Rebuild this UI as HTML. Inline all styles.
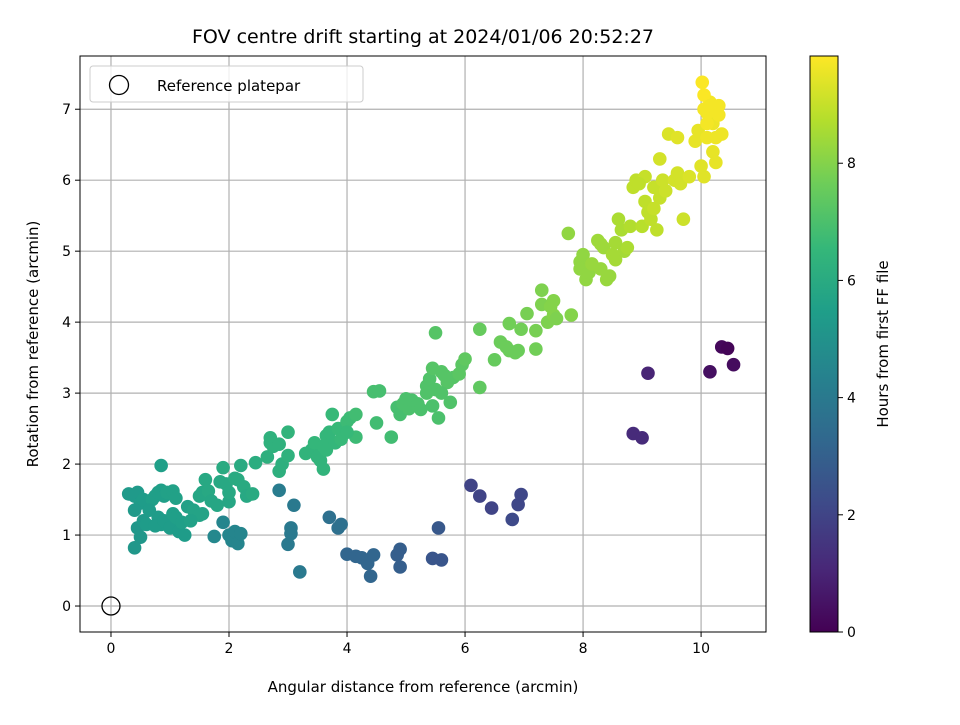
<!DOCTYPE html>
<html><head><meta charset="utf-8"><style>
body{margin:0;background:#fff;}
svg text{font-family:"DejaVu Sans","Liberation Sans",sans-serif;fill:#000;}
</style></head><body>
<svg id="chart" width="960" height="720" viewBox="0 0 960 720">
<text x="423" y="43" text-anchor="middle" font-size="19">FOV centre drift starting at 2024/01/06 20:52:27</text>
<text x="423" y="692" text-anchor="middle" font-size="15">Angular distance from reference (arcmin)</text>
<text x="38" y="344" text-anchor="middle" font-size="15" transform="rotate(-90 38 344)">Rotation from reference (arcmin)</text>
<text x="888" y="344" text-anchor="middle" font-size="15" transform="rotate(-90 888 344)">Hours from first FF file</text>
<g id="legend">
<rect x="90" y="66" width="273" height="36" rx="3" fill="#fff" fill-opacity="0.8" stroke="#ccc"/>
<circle cx="119" cy="85" r="9.5" fill="none" stroke="#000" stroke-width="1.3"/>
<text x="157" y="91" font-size="15">Reference platepar</text>
</g>
</svg>
<script>
const xs=[0.3,0.4,0.45,0.5,0.55,0.4,0.45,0.5,0.4,0.55,0.6,0.7,0.75,0.8,0.85,0.9,0.95,1.05,1.1,0.8,0.85,0.75,0.9,1.0,1.05,1.1,1.15,1.2,1.25,1.3,0.85,0.65,1.4,1.5,1.55,1.6,1.65,1.7,1.5,1.55,1.35,1.85,1.9,1.95,2.0,2.1,2.15,2.2,2.25,2.3,2.4,2.0,1.8,
2.45,2.65,2.7,2.7,2.75,2.85,2.9,2.85,3.0,3.0,3.3,3.4,3.45,3.5,3.55,3.6,3.6,3.65,3.7,3.75,3.8,3.85,3.9,4.0,4.05,4.15,4.15,4.0,3.65,
4.45,4.55,4.5,4.75,4.85,4.9,4.95,5.0,5.05,5.1,5.2,5.25,5.35,5.4,5.45,5.5,5.45,5.55,5.5,5.6,5.65,5.7,5.75,5.8,5.9,5.95,6.0,5.35,5.6,
6.25,6.25,6.5,6.6,6.7,6.75,6.75,6.85,6.95,7.05,7.2,7.2,7.3,7.3,7.4,7.5,7.5,7.45,7.75,7.8,7.55,6.9,
7.95,7.95,8.0,8.05,8.1,8.15,8.25,8.3,8.35,8.4,8.45,8.5,8.55,8.6,8.65,8.7,8.75,8.8,8.3,8.55,
8.85,8.9,9.0,9.05,9.1,9.15,9.2,9.25,9.3,9.35,9.05,8.95,9.2,9.4,9.45,9.55,9.6,9.65,9.7,9.8,9.3,
9.9,9.95,10.05,10.0,10.1,10.2,10.25,10.2,10.1,10.05,10.15,10.05,10.02,10.15,10.3,10.3,10.35,10.1,10.25,9.6,
10.35,10.45,10.15,10.55,9.1,8.85,9.0,6.1,6.25,6.45,6.8,6.9,6.95,5.45,5.6,5.55,4.85,4.9,4.9,4.0,4.15,4.25,4.35,4.4,4.45,3.7,3.85,3.9,3.2,3.0,3.05,3.05,3.1,2.85,2.0,2.05,2.1,2.15,2.2,1.75,1.9];
const ys=[1.58,1.55,1.6,1.45,1.5,1.35,1.1,0.97,0.82,1.2,1.15,1.5,1.55,1.6,1.63,1.55,1.6,1.62,1.52,1.25,1.15,1.13,1.2,1.1,1.3,1.25,1.05,1.18,1.0,1.4,1.98,1.35,1.35,1.55,1.6,1.78,1.62,1.48,1.28,1.3,1.2,1.75,1.95,1.72,1.47,1.8,1.78,1.98,1.68,1.55,1.58,1.6,1.42,
2.02,2.1,2.3,2.37,2.25,1.9,2.0,2.28,2.45,2.12,2.15,2.2,2.3,2.1,2.05,1.93,2.25,2.4,2.45,2.7,2.3,2.5,2.35,2.6,2.65,2.7,2.38,2.45,2.2,
3.02,3.03,2.58,2.38,2.8,2.7,2.85,2.92,2.78,2.9,2.85,2.77,3.1,3.2,3.35,3.05,2.82,2.65,3.85,3.3,3.25,3.15,2.87,3.22,3.27,3.4,3.48,3.0,3.0,
3.08,3.9,3.47,3.72,3.65,3.98,3.6,3.57,3.9,4.12,3.62,3.88,4.25,4.45,4.0,4.1,4.3,4.22,5.25,4.1,4.05,3.6,
4.85,4.75,4.95,4.6,4.7,4.82,5.15,4.75,5.05,4.6,4.65,4.95,4.88,5.45,5.3,5.0,5.05,5.35,5.1,5.12,
5.9,6.0,5.35,5.7,5.55,5.45,5.9,5.3,5.75,6.0,6.05,5.95,5.6,5.85,6.65,6.0,6.1,5.95,5.45,6.05,6.3,
6.55,6.7,6.05,6.2,6.6,6.4,6.25,6.8,6.95,7.0,7.1,7.2,7.38,7.05,7.05,6.92,6.65,6.8,6.6,6.6,
3.65,3.63,3.3,3.4,3.28,2.43,2.37,1.7,1.55,1.38,1.22,1.43,1.57,0.67,0.65,1.1,0.72,0.8,0.55,0.73,0.7,0.68,0.6,0.42,0.72,1.25,1.1,1.15,0.48,0.87,1.02,1.1,1.42,1.63,1.0,0.92,1.05,0.88,1.02,0.98,1.18];
const hours=[5.3,5.3,5.3,5.4,5.4,5.3,5.2,5.2,5.2,5.3,5.4,5.5,5.5,5.5,5.5,5.5,5.6,5.6,5.6,5.4,5.4,5.4,5.4,5.4,5.5,5.5,5.4,5.5,5.4,5.6,5.5,5.4,5.7,5.8,5.8,5.9,5.9,5.8,5.7,5.7,5.6,5.9,6.0,5.9,5.8,6.0,6.0,6.0,6.0,5.9,6.0,5.9,5.8,
6.1,6.2,6.3,6.3,6.3,6.2,6.2,6.3,6.4,6.3,6.4,6.4,6.5,6.4,6.4,6.4,6.5,6.5,6.5,6.6,6.5,6.6,6.6,6.7,6.7,6.8,6.7,6.6,6.5,
6.9,6.9,6.8,6.8,6.9,6.9,7.0,7.0,7.0,7.0,7.0,7.0,7.1,7.1,7.2,7.1,7.0,7.0,7.2,7.2,7.2,7.2,7.1,7.2,7.3,7.3,7.4,7.1,7.1,
7.4,7.5,7.5,7.6,7.6,7.7,7.6,7.6,7.7,7.8,7.7,7.8,7.9,7.9,7.9,8.0,8.0,8.0,8.2,8.0,7.9,7.6,
8.2,8.2,8.2,8.2,8.2,8.3,8.4,8.3,8.4,8.3,8.3,8.5,8.5,8.6,8.6,8.5,8.6,8.7,8.4,8.5,
8.9,8.9,8.8,8.9,8.9,8.9,9.0,8.9,9.0,9.1,9.0,8.9,9.0,9.1,9.3,9.2,9.2,9.2,9.1,9.3,9.2,
9.5,9.5,9.4,9.4,9.6,9.5,9.5,9.6,9.7,9.7,9.7,9.8,9.8,9.7,9.7,9.7,9.6,9.7,9.6,9.4,
0.2,0.1,0.4,0.3,1.0,1.2,1.2,2.0,2.0,2.0,2.2,2.1,2.1,2.6,2.6,2.7,2.9,2.9,2.9,3.2,3.2,3.2,3.2,3.2,3.2,3.6,3.6,3.6,4.0,4.0,4.0,4.0,4.0,4.1,4.5,4.5,4.5,4.5,4.5,4.6,4.5];
const xTicks=[0,2,4,6,8,10];
const yTicks=[0,1,2,3,4,5,6,7];
const cTicks=[0,2,4,6,8];
</script>
<script>
const svg=document.getElementById('chart');
const NS='http://www.w3.org/2000/svg';
const L=80,R=766,T=56,B=632;
const xmin=-0.525,xmax=11.1,ymin=-0.366,ymax=7.75,cmax=9.83;
const sx=v=>L+(v-xmin)/(xmax-xmin)*(R-L);
const sy=v=>B-(v-ymin)/(ymax-ymin)*(B-T);
const cy=v=>632-v/cmax*576;
const vir=[[68,1,84],[72,40,120],[62,74,137],[49,104,142],[38,130,142],[31,158,137],[53,183,121],[109,205,89],[180,222,44],[253,231,37]];
function col(h){let t=Math.max(0,Math.min(1,h/cmax))*9;let i=Math.min(8,Math.floor(t)),f=t-i;const a=vir[i],b=vir[i+1];return 'rgb('+a.map((v,k)=>Math.round(v+(b[k]-v)*f)).join(',')+')';}
function el(tag,attrs,parent){const e=document.createElementNS(NS,tag);for(const k in attrs)e.setAttribute(k,attrs[k]);(parent||svg).appendChild(e);return e;}
const grid=el('g',{});


xTicks.forEach(v=>{const x=sx(v);
const g=el('line',{x1:x,x2:x,y1:T,y2:B,stroke:'#b0b0b0','stroke-width':1.2},grid);


el('line',{x1:x,x2:x,y1:B,y2:B+5,stroke:'#000'});
const t=el('text',{x:x,y:B+21,'text-anchor':'middle','font-size':14});t.textContent=v;

});
yTicks.forEach(v=>{const y=sy(v);
const g=el('line',{x1:L,x2:R,y1:y,y2:y,stroke:'#b0b0b0','stroke-width':1.2},grid);


el('line',{x1:L-5,x2:L,y1:y,y2:y,stroke:'#000'});
const t=el('text',{x:L-9,y:y+5,'text-anchor':'end','font-size':14});t.textContent=v;

});
const pts=el('g',{});


xs.forEach((x,i)=>{const c=el('circle',{cx:sx(x),cy:sy(ys[i]),r:6.8,fill:col(hours[i])},pts);

});
const ref=el('circle',{cx:sx(0),cy:sy(0),r:9,fill:'none',stroke:'#000','stroke-width':1.3});


const frame=el('rect',{x:L,y:T,width:R-L,height:B-T,fill:'none',stroke:'#000','stroke-width':1});


const defs=el('defs',{});
const lg=el('linearGradient',{id:'vg',x1:0,y1:1,x2:0,y2:0},defs);
vir.forEach((c,i)=>el('stop',{offset:i/9,'stop-color':'rgb('+c.join(',')+')'},lg));
const cb=el('rect',{x:810,y:56,width:28,height:576,fill:'url(#vg)',stroke:'#000','stroke-width':1});


cTicks.forEach(v=>{const y=cy(v);el('line',{x1:838,x2:843,y1:y,y2:y,stroke:'#000'});
const t=el('text',{x:847,y:y+5,'font-size':14});t.textContent=v;

});
svg.appendChild(document.getElementById('legend'));
</script>
</body></html>
